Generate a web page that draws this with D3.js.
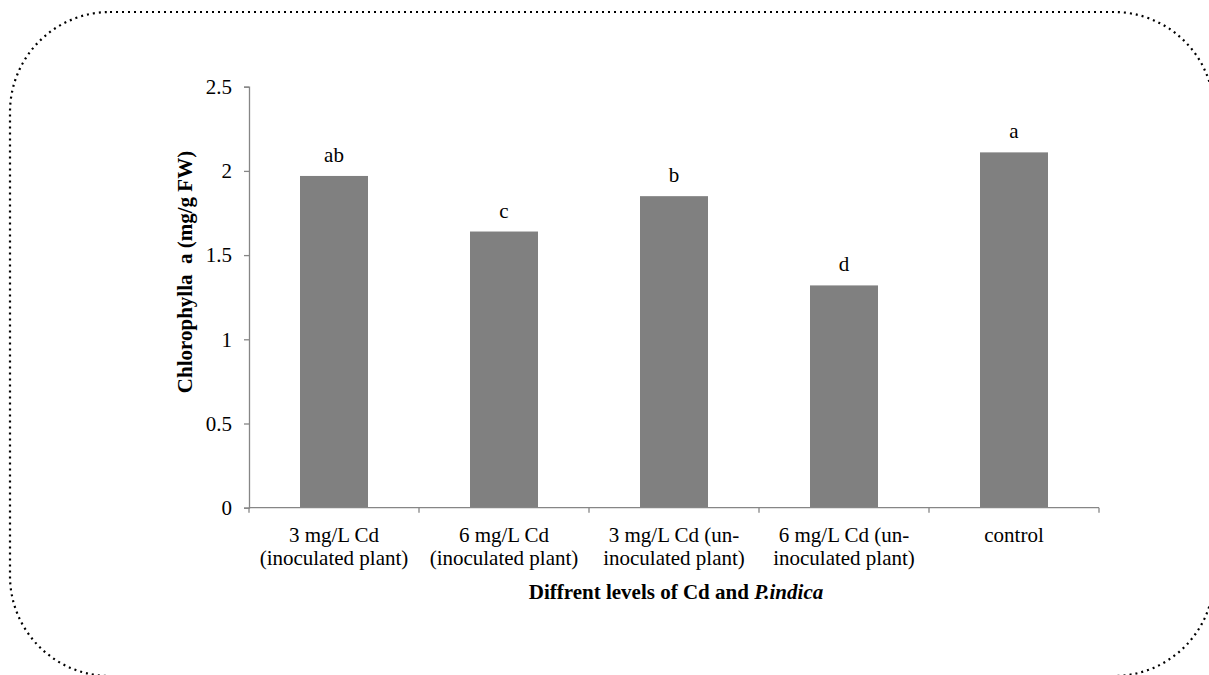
<!DOCTYPE html>
<html>
<head>
<meta charset="utf-8">
<script src="https://cdn.jsdelivr.net/npm/d3@7"></script>
<style>
  html, body { margin: 0; padding: 0; background: #fff; overflow: hidden; }
  svg { display: block; }
  text { font-family: "Liberation Serif", "Times New Roman", serif; fill: #000; }
</style>
</head>
<body>
<svg id="chart" width="1209" height="675"></svg>
<script>
// Chlorophyll a content per treatment
const categories = [
  ["3 mg/L Cd", "(inoculated plant)"],
  ["6 mg/L Cd", "(inoculated plant)"],
  ["3 mg/L Cd (un-", "inoculated plant)"],
  ["6 mg/L Cd (un-", "inoculated plant)"],
  ["control"]
];
const values = [1.97, 1.64, 1.85, 1.32, 2.11];
const letters = ["ab", "c", "b", "d", "a"];
const yTicks = [0, 0.5, 1, 1.5, 2, 2.5];
const yTickLabels = ["0", "0.5", "1", "1.5", "2", "2.5"];

const svg = d3.select("#chart");
const axisColor = "#868686";
const barColor = "#808080";
const fontSize = 21;

// dotted rounded frame around the figure
svg.append("rect")
  .attr("x", 10).attr("y", 12)
  .attr("width", 1204).attr("height", 664)
  .attr("rx", 100).attr("ry", 100)
  .attr("fill", "none")
  .attr("stroke", "#000")
  .attr("stroke-width", 2.2)
  .attr("stroke-dasharray", "2 4");

const plot = { left: 249, right: 1099, top: 86.7, bottom: 507.7 };
const keys = categories.map((d, i) => i);

const x = d3.scaleBand().domain(keys).range([plot.left, plot.right]).paddingInner(0.6).paddingOuter(0.3);
const y = d3.scaleLinear().domain([0, 2.5]).range([plot.bottom, plot.top]);

// bars
svg.append("g").selectAll("rect")
  .data(values)
  .join("rect")
  .attr("x", (d, i) => x(i))
  .attr("y", d => y(d))
  .attr("width", x.bandwidth())
  .attr("height", d => y(0) - y(d))
  .attr("fill", barColor);

// significance letters
svg.append("g").selectAll("text")
  .data(values)
  .join("text")
  .attr("x", (d, i) => x(i) + x.bandwidth() / 2)
  .attr("y", d => y(d) - 14)
  .attr("text-anchor", "middle")
  .attr("font-size", fontSize)
  .text((d, i) => letters[i]);

// y axis
const yAxis = d3.axisLeft(y).tickValues(yTicks)
  .tickFormat((d, i) => yTickLabels[i]).tickSizeOuter(0).tickSize(5).tickPadding(12);
const gy = svg.append("g").attr("transform", `translate(${plot.left},0)`).call(yAxis);
gy.attr("font-family", null).attr("font-size", null);
gy.select(".domain").attr("stroke", axisColor).attr("stroke-width", 1.3);
gy.selectAll(".tick line").attr("stroke", axisColor).attr("stroke-width", 1.3);
gy.selectAll(".tick text").attr("font-size", fontSize).attr("fill", "#000");

// x axis: baseline plus category boundary ticks
const bandStep = (plot.right - plot.left) / categories.length;
const gx = svg.append("g");
gx.append("line")
  .attr("x1", plot.left).attr("x2", plot.right)
  .attr("y1", y(0)).attr("y2", y(0))
  .attr("stroke", axisColor).attr("stroke-width", 1.3);
gx.selectAll(".bt")
  .data(d3.range(categories.length + 1))
  .join("line")
  .attr("class", "bt")
  .attr("x1", i => plot.left + i * bandStep).attr("x2", i => plot.left + i * bandStep)
  .attr("y1", y(0)).attr("y2", y(0) + 5)
  .attr("stroke", axisColor).attr("stroke-width", 1.3);

// category labels
const lab = gx.selectAll(".cat")
  .data(categories)
  .join("text")
  .attr("class", "cat")
  .attr("text-anchor", "middle")
  .attr("font-size", fontSize)
  .attr("x", (d, i) => x(i) + x.bandwidth() / 2)
  .attr("y", 542);
lab.selectAll("tspan")
  .data(d => d)
  .join("tspan")
  .attr("x", function () { return d3.select(this.parentNode).attr("x"); })
  .attr("dy", (d, j) => j === 0 ? 0 : 23)
  .text(d => d);

// axis titles
const xt = svg.append("text")
  .attr("x", 676)
  .attr("y", 599)
  .attr("text-anchor", "middle")
  .attr("font-size", fontSize)
  .attr("font-weight", "bold");
xt.append("tspan").text("Diffrent levels of Cd and ");
xt.append("tspan").attr("font-style", "italic").text("P.indica");

svg.append("text")
  .attr("transform", "translate(192,272) rotate(-90)")
  .attr("text-anchor", "middle")
  .attr("font-size", fontSize)
  .attr("font-weight", "bold")
  .style("white-space", "pre")
  .text("Chlorophylla  a (mg/g FW)");
</script>
</body>
</html>
